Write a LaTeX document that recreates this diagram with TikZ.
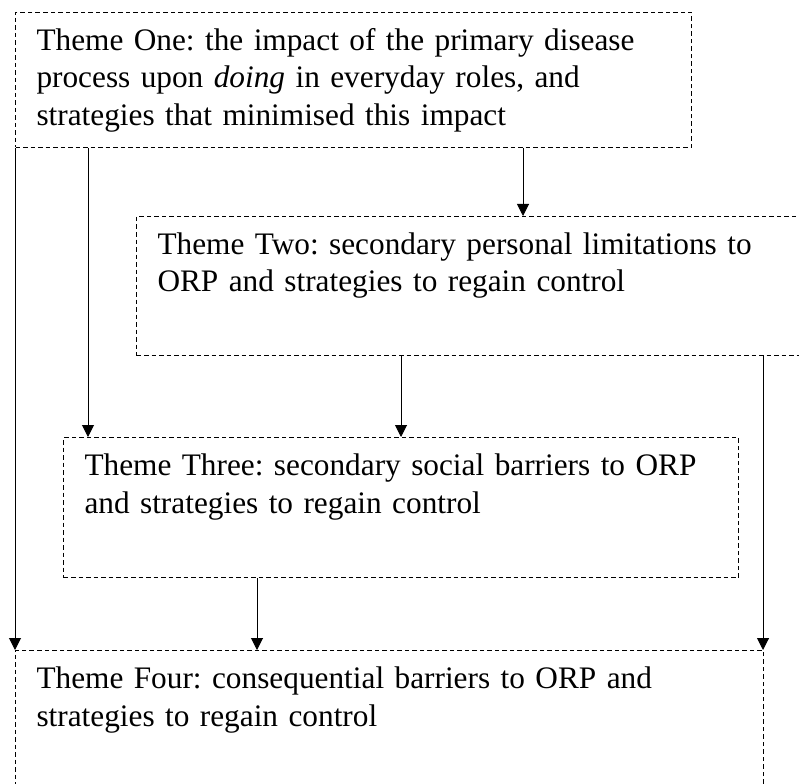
\documentclass[tikz,border=0pt]{standalone}
\usepackage{fontspec}
\setmainfont{Liberation Serif}
\usetikzlibrary{arrows.meta}
\frenchspacing

\tikzset{theme/.style={draw, line width=1pt, dash pattern=on 4.5pt off 3pt, anchor=north west,
    inner xsep=21pt, inner ysep=0pt, align=left, text height=38pt,
    font=\fontsize{31.3}{37.5}\selectfont}}
\tikzset{flow/.style={draw, line width=1pt, -{Triangle[width=12pt,length=12pt]}}}

\begin{document}
\begin{tikzpicture}[x=1pt, y=-1pt]
    \useasboundingbox (0,0) rectangle (799,783);
    % First we draw the theme boxes
    \node[theme, text width=634pt, text depth=97pt] (one) at (15,12)
        {Theme One: the impact of the primary disease\\process upon \textit{doing} in everyday roles, and\\strategies that minimised this impact};
    \node[theme, text width=642pt, text depth=101pt] (two) at (136,216)
        {Theme Two: secondary personal limitations to\\ORP and strategies to regain control};
    \node[theme, text width=633pt, text depth=102pt] (three) at (63,437)
        {Theme Three: secondary social barriers to ORP\\and strategies to regain control};
    \node[theme, text width=706pt, text depth=112pt] (four) at (15,650)
        {Theme Four: consequential barriers to ORP and\\strategies to regain control};
    % Connect themes with arrows
    \foreach \source/\dest/\xpos in {one/four/15, one/three/88, one/two/523, two/three/401, two/four/763, three/four/257}
        \path[flow] (\xpos,0 |- \source.south) -- (\xpos,0 |- \dest.north);
\end{tikzpicture}
\end{document}
